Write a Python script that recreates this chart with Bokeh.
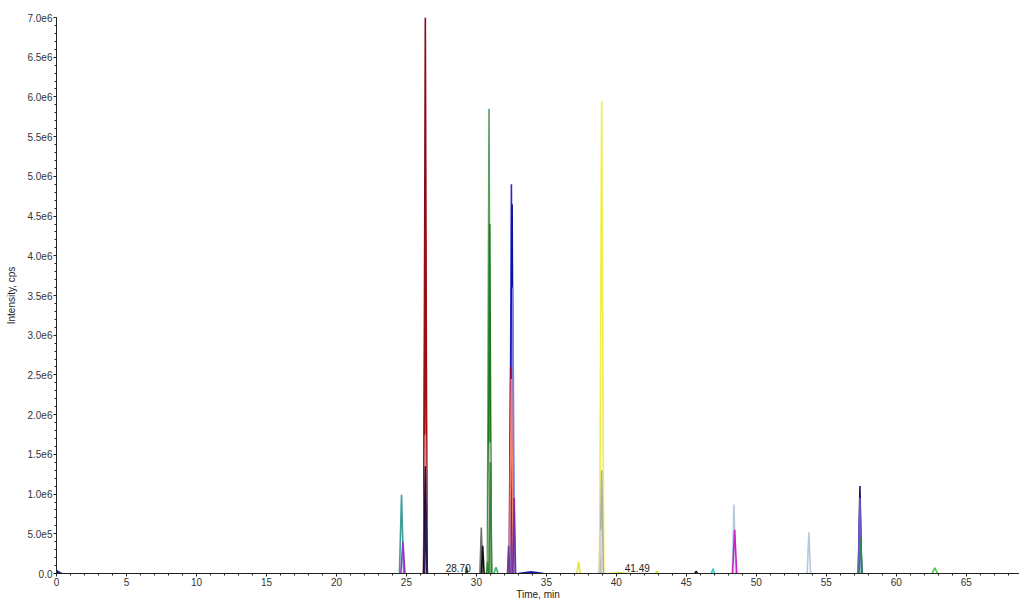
import math
from bokeh.plotting import figure
from bokeh.models import ColumnDataSource, FixedTicker, Range1d
from bokeh.core.properties import value
from bokeh.embed import file_html
from bokeh.resources import INLINE

# ---- data ----
peak_rt = [24.65, 24.75, 26.35, 26.35, 26.35, 26.35, 26.4,
           30.35, 30.45, 29.3, 30.9, 30.95, 30.95, 31.0, 30.8, 31.4,
           32.5, 32.55, 32.6, 32.45, 32.5, 32.7, 32.3, 33.9,
           37.3, 38.95, 38.95, 38.85, 40.2, 42.9, 45.7, 46.9,
           48.4, 48.45, 53.75, 57.4, 57.4, 57.45, 62.75]
peak_height = [0.99e6, 0.40e6, 7.00e6, 4.35e6, 1.75e6, 1.35e6, 0.70e6,
               0.58e6, 0.35e6, 0.08e6, 5.85e6, 4.40e6, 1.65e6, 1.40e6, 0.15e6, 0.08e6,
               4.90e6, 4.65e6, 3.60e6, 2.60e6, 2.45e6, 0.95e6, 0.35e6, 0.02e6,
               0.15e6, 5.95e6, 1.30e6, 0.55e6, 0.01e6, 0.03e6, 0.03e6, 0.06e6,
               0.87e6, 0.55e6, 0.52e6, 1.10e6, 0.95e6, 0.45e6, 0.07e6]
peak_halfwidth = [0.15, 0.15, 0.12, 0.12, 0.12, 0.12, 0.10,
                  0.10, 0.10, 0.06, 0.12, 0.12, 0.12, 0.10, 0.08, 0.15,
                  0.12, 0.12, 0.12, 0.12, 0.14, 0.10, 0.08, 0.90,
                  0.12, 0.15, 0.12, 0.10, 0.60, 0.10, 0.10, 0.12,
                  0.12, 0.15, 0.12, 0.12, 0.12, 0.12, 0.20]
peak_color = ["#3d9c9c", "#9933cc", "#8b0a1a", "#a01010", "#d08a8a", "#2a0a3a", "#202060",
              "#707070", "#101010", "#1a5a1a", "#5aa05a", "#1f7a1f", "#c0c0c0", "#2e8b2e", "#2e8b2e", "#3cb371",
              "#2a2acc", "#10109a", "#8080e0", "#8b0a5a", "#f08070", "#7030a0", "#6a3aa0", "#1a1aaa",
              "#e6e62e", "#eeee44", "#b0b0a0", "#d0d0d0", "#dddd33", "#dddd33", "#202020", "#33cccc",
              "#b8c8dc", "#cc22cc", "#b8c8dc", "#1a1a6a", "#6a5acd", "#2e8b57", "#44cc44"]

annot_rt = [28.70, 41.49]
annot_text = ["28.70", "41.49"]

marker_x = [0.0]
marker_y = [0.0]

x_tick_values = [0, 5, 10, 15, 20, 25, 30, 35, 40, 45, 50, 55, 60, 65]
y_tick_values = [0, 5e5, 1e6, 1.5e6, 2e6, 2.5e6, 3e6, 3.5e6, 4e6, 4.5e6, 5e6, 5.5e6, 6e6, 6.5e6, 7e6]
y_tick_labels = ["0.0", "5.0e5", "1.0e6", "1.5e6", "2.0e6", "2.5e6", "3.0e6", "3.5e6",
                 "4.0e6", "4.5e6", "5.0e6", "5.5e6", "6.0e6", "6.5e6", "7.0e6"]

FONT = "Liberation Sans"

p = figure(width=1019, height=602, output_backend="svg", toolbar_location=None,
           x_range=Range1d(0, 68.8), y_range=Range1d(0, 7.0e6),
           min_border_left=56, min_border_right=0, min_border_top=17, min_border_bottom=0)
p.outline_line_color = None
p.xgrid.visible = False
p.ygrid.visible = False
p.background_fill_color = "white"
p.border_fill_color = "white"

# peaks drawn as narrow triangles (start, apex, end)
xs = [[r - w, r, r + w] for r, w in zip(peak_rt, peak_halfwidth)]
ys = [[0, h, 0] for h in peak_height]
src = ColumnDataSource(dict(xs=xs, ys=ys, color=peak_color))
p.multi_line(xs="xs", ys="ys", line_color="color", line_width=1.6, source=src)

# annotations on baseline
p.text(x=annot_rt, y=[0.02e6] * len(annot_rt), text=annot_text,
       text_font=value(FONT), text_font_size="10px", text_color="#222222",
       text_align="center", text_baseline="bottom")

# origin marker
p.scatter(x=marker_x, y=marker_y, marker="triangle", size=10, angle=-math.pi / 2,
          fill_color="#1a1a99", line_color="#1a1a99")

# axes
for ax in (p.xaxis[0], p.yaxis[0]):
    ax.axis_line_color = "#222222"
    ax.major_tick_line_color = "#222222"
    ax.minor_tick_line_color = "#222222"
    ax.major_tick_in = 0
    ax.minor_tick_in = 0
    ax.major_tick_out = 3
    ax.minor_tick_out = 2
    ax.major_label_text_font = FONT
    ax.major_label_text_font_size = "10px"
    ax.major_label_text_color = "#333333"
    ax.axis_label_text_font = FONT
    ax.axis_label_text_font_size = "10px"
    ax.axis_label_text_font_style = "normal"
    ax.axis_label_text_color = "#222222"

p.xaxis.ticker = FixedTicker(ticks=x_tick_values, minor_ticks=list(range(0, 69)))
p.xaxis.axis_label = "Time, min"
p.xaxis.major_label_standoff = 1
p.xaxis.axis_label_standoff = 0

p.yaxis.ticker = FixedTicker(ticks=y_tick_values,
                             minor_ticks=[i * 1e5 for i in range(0, 71)])
p.yaxis.major_label_overrides = {v: l for v, l in zip(y_tick_values, y_tick_labels)}
p.yaxis.axis_label = "Intensity, cps"
p.yaxis.major_label_standoff = 1
p.yaxis.axis_label_standoff = 7

open("out.html", "w").write(file_html(p, INLINE))
